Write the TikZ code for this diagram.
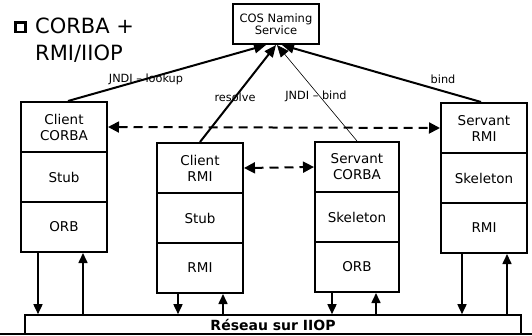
\documentclass[tikz,border=0pt]{standalone}
\usepackage{fontspec}
\setmainfont{DejaVu Sans}
\usetikzlibrary{arrows.meta}
\begin{document}
\begin{tikzpicture}[x=1pt,y=-1pt,
  sect/.style={draw, line width=2pt, minimum width=86pt, minimum height=50pt, inner sep=0pt, align=center, font=\fontsize{13.5}{16}\selectfont},
  lbl/.style={font=\fontsize{11.3}{12}\selectfont, inner sep=0pt},
  toname/.style={line width=2pt, -{Triangle[length=12pt,width=10pt]}},
  dasharrow/.style={line width=2pt, dash pattern=on 9pt off 6pt, {Triangle[length=11pt,width=11pt]}-{Triangle[length=11pt,width=11pt]}},
  netarrow/.style={line width=1.6pt, -{Triangle[length=10pt,width=9pt]}}
]
\useasboundingbox (0,0) rectangle (532,335);
\clip (0,0) rectangle (532,335);
\fill[white] (0,0) rectangle (532,335);

% title
\draw[line width=2.3pt] (15.5,22.5) rectangle (25.5,32);
\node[anchor=base west, inner sep=0pt, font=\fontsize{21}{25}\selectfont] (t1) at (35,33) {CORBA +};
\node[anchor=base west, inner sep=0pt, font=\fontsize{21}{25}\selectfont] (t2) at (35,60) {RMI/IIOP};

% naming service
\node[draw, line width=2pt, minimum width=86pt, minimum height=40pt, inner sep=0pt, align=center, font=\fontsize{11.5}{12}\selectfont] (naming) at (276,24) {COS Naming\\Service};

% Client CORBA
\node[sect] (cc1) at (64,127) {Client\\CORBA};
\node[sect] (cc2) at (64,177) {Stub};
\node[sect] (cc3) at (64,227) {ORB};
% Client RMI
\node[sect] (cr1) at (200,168) {Client\\RMI};
\node[sect] (cr2) at (200,218) {Stub};
\node[sect] (cr3) at (200,268) {RMI};
% Servant CORBA
\node[sect, minimum width=84pt] (sc1) at (357,167) {Servant\\CORBA};
\node[sect, minimum width=84pt] (sc2) at (357,217) {Skeleton};
\node[sect, minimum width=84pt] (sc3) at (357,267) {ORB};
% Servant RMI
\node[sect] (sr1) at (484,128) {Servant\\RMI};
\node[sect] (sr2) at (484,178) {Skeleton};
\node[sect] (sr3) at (484,228) {RMI};

% network bar
\node[draw, line width=1.6pt, minimum width=496pt, minimum height=19pt, inner sep=0pt, font=\bfseries\fontsize{14}{16}\selectfont] (net) at (273,324.5) {Réseau sur IIOP};
\fill (0,332.5) rectangle (532,335);

% connectors to naming service
\draw[toname] ([xshift=4pt]cc1.north) -- ([xshift=-10pt]naming.south);
\draw[toname] (cr1.north) -- ([xshift=0pt]naming.south);
\draw[toname, line width=0.6pt] (sc1.north) -- ([xshift=1pt]naming.south);
\draw[toname] ([xshift=-3pt]sr1.north) -- ([xshift=6pt]naming.south);

\node[lbl] (l1) at (146,79) {JNDI – lookup};
\node[lbl] (l2) at (235,97) {resolve};
\node[lbl] (l3) at (316,96) {JNDI – bind};
\node[lbl] (l4) at (443,79) {bind};

% dashed arrows
\draw[dasharrow] (cc1.east) -- (sr1.west);
\draw[dasharrow] (cr1.east) -- (sc1.west);

% arrows to/from network
\draw[netarrow] ([xshift=18pt]cc3.south west) -- ([xshift=18pt]cc3.south west |- net.north);
\draw[netarrow] ([xshift=63pt]cc3.south west |- net.north) -- ([xshift=63pt]cc3.south west);
\draw[netarrow] ([xshift=22pt]cr3.south west) -- ([xshift=22pt]cr3.south west |- net.north);
\draw[netarrow] ([xshift=67pt]cr3.south west |- net.north) -- ([xshift=67pt]cr3.south west);
\draw[netarrow] ([xshift=18pt]sc3.south west) -- ([xshift=18pt]sc3.south west |- net.north);
\draw[netarrow] ([xshift=62pt]sc3.south west |- net.north) -- ([xshift=62pt]sc3.south west);
\draw[netarrow] ([xshift=22pt]sr3.south west) -- ([xshift=22pt]sr3.south west |- net.north);
\draw[netarrow] ([xshift=67pt]sr3.south west |- net.north) -- ([xshift=67pt]sr3.south west);
\end{tikzpicture}
\end{document}
